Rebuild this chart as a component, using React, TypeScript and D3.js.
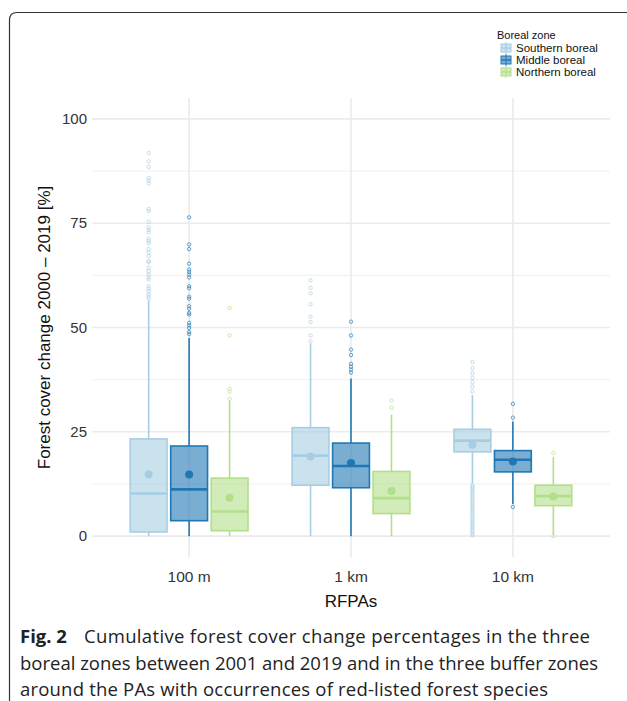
import * as d3 from "d3";

const GROUPS = ["100 m", "1 km", "10 km"];
const ZONES = ["Southern boreal", "Middle boreal", "Northern boreal"];
const COLORS = ["#A6CEE3", "#1F78B4", "#B2DF8A"];

// per zone, per group: [lower whisker, q1, median, q3, upper whisker]
const southernBox = [
  [0, 1.0, 10.2, 23.3, 56.5],
  [0, 12.2, 19.3, 26.0, 46.2],
  [12.6, 20.2, 22.9, 25.6, 33.8],
];
const middleBox = [
  [0, 3.7, 11.2, 21.6, 47.5],
  [0, 11.6, 16.8, 22.3, 37.8],
  [7.7, 15.4, 18.3, 20.5, 27.5],
];
const northernBox = [
  [0, 1.3, 5.9, 13.9, 32.4],
  [0, 5.4, 9.1, 15.5, 29.1],
  [0.4, 7.3, 9.6, 12.2, 19.0],
];

const southernMean = [14.8, 19.1, 21.9];
const middleMean = [14.8, 17.5, 17.9];
const northernMean = [9.2, 10.8, 9.5];

const southernOut = [
  [91.8, 89.8, 88.5, 85.8, 85.2, 84.5, 78.4, 77.9, 75.3, 74.0, 73.4, 72.8, 71.3, 70.7, 70.2, 68.8, 68.0, 67.1, 65.9, 65.6, 64.3, 63.5, 62.7, 62.0, 61.5, 59.9, 59.3, 58.7, 57.9, 57.4, 56.9],
  [61.3, 59.5, 58.2, 55.6, 52.6, 51.3, 48.1, 46.7],
  [41.7, 40.3, 39.1, 38.0, 36.9, 35.9, 34.7, 12.2, 11.8, 11.4, 11.0, 10.6, 10.1, 9.7, 9.2, 8.8, 8.3, 7.9, 7.4, 7.0, 6.5, 6.1, 5.6, 5.2, 4.7, 4.2, 3.8, 3.3, 2.9, 2.4, 2.0, 1.5, 1.1, 0.6, 0.2],
];
const middleOut = [
  [76.4, 69.9, 68.8, 65.3, 63.9, 63.3, 62.7, 62.0, 59.9, 59.4, 57.4, 56.9, 55.1, 54.5, 53.5, 53.1, 51.1, 50.5, 49.9, 48.9, 48.4],
  [51.4, 48.1, 44.7, 43.4, 41.3, 40.6, 39.9, 39.2],
  [31.7, 28.4, 7.0],
];
const northernOut = [
  [54.7, 48.1, 35.3, 34.6, 32.9],
  [32.5, 30.8],
  [19.9, 0.0],
];

const Y_TICKS = [0, 25, 50, 75, 100];
const Y_MINOR = [12.5, 37.5, 62.5, 87.5];

const CAPTION = [
  "Cumulative forest cover change percentages in the three",
  "boreal zones between 2001 and 2019 and in the three buffer zones",
  "around the PAs with occurrences of red-listed forest species",
];

const boxes = [southernBox, middleBox, northernBox];
const means = [southernMean, middleMean, northernMean];
const outs = [southernOut, middleOut, northernOut];

const PANEL = { left: 92, right: 610, top: 98, bottom: 557 };
const FONT = "'Liberation Sans', Arial, sans-serif";
const CAP_FONT = "'Open Sans', sans-serif";

export default function App() {
  const x = d3.scalePoint().domain(GROUPS).range([PANEL.left, PANEL.right]).padding(0.6);
  const step = x.step();
  const dodge = d3
    .scaleBand()
    .domain(ZONES)
    .range([-0.375 * step, 0.375 * step])
    .paddingInner(0.09)
    .paddingOuter(0.045);
  const y = d3.scaleLinear().domain([-5, 105]).range([PANEL.bottom, PANEL.top]);
  const bw = dodge.bandwidth();

  return (
    <svg width={627} height={701} style={{ position: "absolute", left: 0, top: 0, background: "#fff" }}>
      {/* card frame */}
      <path d="M9.5,701 L9.5,20 Q9.5,12.5 17,12.5 L627,12.5" fill="none" stroke="#333" strokeWidth={1.2} />

      {/* gridlines */}
      {Y_MINOR.map((t) => (
        <line key={"mn" + t} x1={PANEL.left} x2={PANEL.right} y1={y(t)} y2={y(t)} stroke="#F0F0F0" strokeWidth={1} />
      ))}
      {Y_TICKS.map((t) => (
        <line key={"mj" + t} x1={PANEL.left} x2={PANEL.right} y1={y(t)} y2={y(t)} stroke="#EBEBEB" strokeWidth={1.6} />
      ))}
      {GROUPS.map((g) => (
        <line key={"v" + g} x1={x(g)} x2={x(g)} y1={PANEL.top} y2={PANEL.bottom} stroke="#EBEBEB" strokeWidth={1.6} />
      ))}

      {/* boxes */}
      {ZONES.map((z, zi) =>
        GROUPS.map((g, gi) => {
          const [lo, q1, med, q3, hi] = boxes[zi][gi];
          const cx = (x(g) ?? 0) + (dodge(z) ?? 0) + bw / 2;
          const c = COLORS[zi];
          return (
            <g key={z + g}>
              <line x1={cx} x2={cx} y1={y(q3)} y2={y(hi)} stroke={c} strokeWidth={1.6} />
              <line x1={cx} x2={cx} y1={y(q1)} y2={y(lo)} stroke={c} strokeWidth={1.6} />
              <rect x={cx - bw / 2} y={y(q3)} width={bw} height={y(q1) - y(q3)} fill={c} fillOpacity={0.6} stroke={c} strokeWidth={1.6} />
              <line x1={cx - bw / 2} x2={cx + bw / 2} y1={y(med)} y2={y(med)} stroke={c} strokeWidth={2.6} />
              {outs[zi][gi].map((v, i) => (
                <circle key={i} cx={cx} cy={y(v)} r={1.7} fill="none" stroke={c} strokeOpacity={0.75} strokeWidth={0.9} />
              ))}
              <circle cx={cx} cy={y(means[zi][gi])} r={4} fill={c} />
            </g>
          );
        })
      )}

      {/* y axis */}
      {Y_TICKS.map((t) => (
        <text key={"yt" + t} x={87} y={y(t)} dy="0.35em" textAnchor="end" fontFamily={FONT} fontSize={15} fill="#333">
          {t}
        </text>
      ))}
      <text
        transform={`translate(50,${(PANEL.top + PANEL.bottom) / 2}) rotate(-90)`}
        textAnchor="middle"
        fontFamily={FONT}
        fontSize={17}
        fill="#111"
      >
        Forest cover change 2000 – 2019 [%]
      </text>

      {/* x axis */}
      {GROUPS.map((g) => (
        <text key={"xt" + g} x={x(g)} y={582} textAnchor="middle" fontFamily={FONT} fontSize={15.5} fill="#333">
          {g}
        </text>
      ))}
      <text x={x(GROUPS[1])} y={607} textAnchor="middle" fontFamily={FONT} fontSize={17} fill="#111">
        RFPAs
      </text>

      {/* legend */}
      <text x={497} y={39} fontFamily={FONT} fontSize={11} fill="#111">
        Boreal zone
      </text>
      {ZONES.map((z, i) => {
        const ky = 48 + i * 12;
        const c = COLORS[i];
        return (
          <g key={"lg" + z}>
            <line x1={506} x2={506} y1={ky - 6} y2={ky + 6} stroke={c} strokeWidth={1} />
            <rect x={501} y={ky - 4} width={10} height={8} fill={c} fillOpacity={0.6} stroke={c} strokeWidth={1} />
            <line x1={501} x2={511} y1={ky} y2={ky} stroke={c} strokeWidth={1.4} />
            <text x={516} y={ky} dy="0.35em" fontFamily={FONT} fontSize={11.5} fill="#111">
              {z}
            </text>
          </g>
        );
      })}

      {/* caption */}
      <text x={20} y={643} fontFamily={CAP_FONT} fontSize={18.5} fontWeight="bold" fill="#222">
        Fig. 2
      </text>
      <text x={84} y={643} fontFamily={CAP_FONT} fontSize={18.5} fill="#222" textLength={506} lengthAdjust="spacing">
        {CAPTION[0]}
      </text>
      <text x={20} y={669.5} fontFamily={CAP_FONT} fontSize={18.5} fill="#222" textLength={578} lengthAdjust="spacing">
        {CAPTION[1]}
      </text>
      <text x={20} y={696} fontFamily={CAP_FONT} fontSize={18.5} fill="#222" textLength={528} lengthAdjust="spacing">
        {CAPTION[2]}
      </text>
    </svg>
  );
}
